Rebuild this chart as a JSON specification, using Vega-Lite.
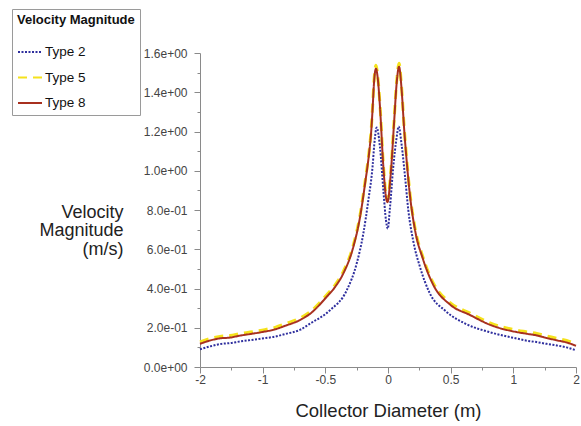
{
  "$schema": "https://vega.github.io/schema/vega-lite/v6.json",
  "autosize": "none",
  "width": 376,
  "height": 314,
  "padding": {"left": 200, "top": 53, "right": 5, "bottom": 59},
  "background": "white",
  "config": {
    "view": {"stroke": null},
    "font": "Liberation Sans",
    "axis": {"labelFont": "Liberation Sans", "titleFont": "Liberation Sans", "grid": false, "domainColor": "#8a8a8a", "tickColor": "#8a8a8a", "labelColor": "#444444", "titleColor": "#222222", "titleFontWeight": "normal"}
  },
  "datasets": {
    "curves": [
      {"x": -2.0, "v": 0.118, "type": "Type 8"}, {"x": -1.84, "v": 0.135, "type": "Type 8"}, {"x": -1.68, "v": 0.146, "type": "Type 8"}, {"x": -1.52, "v": 0.150, "type": "Type 8"}, {"x": -1.36, "v": 0.160, "type": "Type 8"}, {"x": -1.2, "v": 0.168, "type": "Type 8"}, {"x": -1.01, "v": 0.178, "type": "Type 8"}, {"x": -0.9, "v": 0.192, "type": "Type 8"}, {"x": -0.82, "v": 0.21, "type": "Type 8"}, {"x": -0.7, "v": 0.24, "type": "Type 8"}, {"x": -0.62, "v": 0.272, "type": "Type 8"}, {"x": -0.49, "v": 0.357, "type": "Type 8"}, {"x": -0.42, "v": 0.41, "type": "Type 8"}, {"x": -0.357, "v": 0.476, "type": "Type 8"}, {"x": -0.277, "v": 0.611, "type": "Type 8"}, {"x": -0.223, "v": 0.764, "type": "Type 8"}, {"x": -0.183, "v": 0.934, "type": "Type 8"}, {"x": -0.149, "v": 1.10, "type": "Type 8"}, {"x": -0.134, "v": 1.2, "type": "Type 8"}, {"x": -0.122, "v": 1.325, "type": "Type 8"}, {"x": -0.112, "v": 1.445, "type": "Type 8"}, {"x": -0.096, "v": 1.52, "type": "Type 8"}, {"x": -0.08, "v": 1.46, "type": "Type 8"}, {"x": -0.064, "v": 1.325, "type": "Type 8"}, {"x": -0.037, "v": 1.02, "type": "Type 8"}, {"x": -0.016, "v": 0.866, "type": "Type 8"}, {"x": -0.004, "v": 0.84, "type": "Type 8"}, {"x": 0.022, "v": 0.985, "type": "Type 8"}, {"x": 0.048, "v": 1.24, "type": "Type 8"}, {"x": 0.069, "v": 1.445, "type": "Type 8"}, {"x": 0.088, "v": 1.53, "type": "Type 8"}, {"x": 0.109, "v": 1.41, "type": "Type 8"}, {"x": 0.128, "v": 1.22, "type": "Type 8"}, {"x": 0.149, "v": 1.05, "type": "Type 8"}, {"x": 0.176, "v": 0.87, "type": "Type 8"}, {"x": 0.215, "v": 0.70, "type": "Type 8"}, {"x": 0.279, "v": 0.55, "type": "Type 8"}, {"x": 0.36, "v": 0.42, "type": "Type 8"}, {"x": 0.495, "v": 0.318, "type": "Type 8"}, {"x": 0.654, "v": 0.265, "type": "Type 8"}, {"x": 0.814, "v": 0.215, "type": "Type 8"}, {"x": 1.054, "v": 0.178, "type": "Type 8"}, {"x": 1.2, "v": 0.17, "type": "Type 8"}, {"x": 1.373, "v": 0.161, "type": "Type 8"}, {"x": 1.53, "v": 0.148, "type": "Type 8"}, {"x": 1.692, "v": 0.136, "type": "Type 8"}, {"x": 1.85, "v": 0.125, "type": "Type 8"}, {"x": 2.0, "v": 0.108, "type": "Type 8"},

      {"x": -2.0, "v": 0.128, "type": "Type 5"}, {"x": -1.84, "v": 0.145, "type": "Type 5"}, {"x": -1.68, "v": 0.156, "type": "Type 5"}, {"x": -1.52, "v": 0.160, "type": "Type 5"}, {"x": -1.36, "v": 0.170, "type": "Type 5"}, {"x": -1.2, "v": 0.178, "type": "Type 5"}, {"x": -1.01, "v": 0.188, "type": "Type 5"}, {"x": -0.9, "v": 0.202, "type": "Type 5"}, {"x": -0.82, "v": 0.220, "type": "Type 5"}, {"x": -0.7, "v": 0.250, "type": "Type 5"}, {"x": -0.62, "v": 0.282, "type": "Type 5"}, {"x": -0.49, "v": 0.367, "type": "Type 5"}, {"x": -0.42, "v": 0.420, "type": "Type 5"}, {"x": -0.357, "v": 0.486, "type": "Type 5"}, {"x": -0.277, "v": 0.621, "type": "Type 5"}, {"x": -0.223, "v": 0.774, "type": "Type 5"}, {"x": -0.183, "v": 0.944, "type": "Type 5"}, {"x": -0.149, "v": 1.110, "type": "Type 5"}, {"x": -0.134, "v": 1.210, "type": "Type 5"}, {"x": -0.122, "v": 1.335, "type": "Type 5"}, {"x": -0.112, "v": 1.455, "type": "Type 5"}, {"x": -0.096, "v": 1.538, "type": "Type 5"}, {"x": -0.08, "v": 1.470, "type": "Type 5"}, {"x": -0.064, "v": 1.335, "type": "Type 5"}, {"x": -0.037, "v": 1.030, "type": "Type 5"}, {"x": -0.016, "v": 0.876, "type": "Type 5"}, {"x": -0.004, "v": 0.850, "type": "Type 5"}, {"x": 0.022, "v": 0.995, "type": "Type 5"}, {"x": 0.048, "v": 1.250, "type": "Type 5"}, {"x": 0.069, "v": 1.455, "type": "Type 5"}, {"x": 0.088, "v": 1.548, "type": "Type 5"}, {"x": 0.109, "v": 1.420, "type": "Type 5"}, {"x": 0.128, "v": 1.230, "type": "Type 5"}, {"x": 0.149, "v": 1.060, "type": "Type 5"}, {"x": 0.176, "v": 0.880, "type": "Type 5"}, {"x": 0.215, "v": 0.710, "type": "Type 5"}, {"x": 0.279, "v": 0.560, "type": "Type 5"}, {"x": 0.36, "v": 0.430, "type": "Type 5"}, {"x": 0.495, "v": 0.328, "type": "Type 5"}, {"x": 0.654, "v": 0.275, "type": "Type 5"}, {"x": 0.814, "v": 0.225, "type": "Type 5"}, {"x": 1.054, "v": 0.188, "type": "Type 5"}, {"x": 1.2, "v": 0.180, "type": "Type 5"}, {"x": 1.373, "v": 0.171, "type": "Type 5"}, {"x": 1.53, "v": 0.158, "type": "Type 5"}, {"x": 1.692, "v": 0.146, "type": "Type 5"}, {"x": 1.85, "v": 0.135, "type": "Type 5"}, {"x": 2.0, "v": 0.118, "type": "Type 5"},

      {"x": -2.0, "v": 0.09, "type": "Type 2"}, {"x": -1.84, "v": 0.105, "type": "Type 2"}, {"x": -1.68, "v": 0.117, "type": "Type 2"}, {"x": -1.52, "v": 0.122, "type": "Type 2"}, {"x": -1.36, "v": 0.13, "type": "Type 2"}, {"x": -1.2, "v": 0.137, "type": "Type 2"}, {"x": -1.01, "v": 0.145, "type": "Type 2"}, {"x": -0.9, "v": 0.155, "type": "Type 2"}, {"x": -0.82, "v": 0.168, "type": "Type 2"}, {"x": -0.7, "v": 0.19, "type": "Type 2"}, {"x": -0.622, "v": 0.221, "type": "Type 2"}, {"x": -0.463, "v": 0.289, "type": "Type 2"}, {"x": -0.329, "v": 0.391, "type": "Type 2"}, {"x": -0.25, "v": 0.527, "type": "Type 2"}, {"x": -0.197, "v": 0.68, "type": "Type 2"}, {"x": -0.157, "v": 0.849, "type": "Type 2"}, {"x": -0.122, "v": 1.03, "type": "Type 2"}, {"x": -0.11, "v": 1.13, "type": "Type 2"}, {"x": -0.09, "v": 1.22, "type": "Type 2"}, {"x": -0.064, "v": 1.12, "type": "Type 2"}, {"x": -0.037, "v": 0.9, "type": "Type 2"}, {"x": -0.016, "v": 0.747, "type": "Type 2"}, {"x": -0.002, "v": 0.705, "type": "Type 2"}, {"x": 0.016, "v": 0.815, "type": "Type 2"}, {"x": 0.042, "v": 1.02, "type": "Type 2"}, {"x": 0.069, "v": 1.17, "type": "Type 2"}, {"x": 0.085, "v": 1.226, "type": "Type 2"}, {"x": 0.109, "v": 1.13, "type": "Type 2"}, {"x": 0.136, "v": 0.97, "type": "Type 2"}, {"x": 0.162, "v": 0.80, "type": "Type 2"}, {"x": 0.202, "v": 0.64, "type": "Type 2"}, {"x": 0.255, "v": 0.51, "type": "Type 2"}, {"x": 0.33, "v": 0.38, "type": "Type 2"}, {"x": 0.46, "v": 0.285, "type": "Type 2"}, {"x": 0.62, "v": 0.22, "type": "Type 2"}, {"x": 0.814, "v": 0.177, "type": "Type 2"}, {"x": 1.054, "v": 0.145, "type": "Type 2"}, {"x": 1.2, "v": 0.135, "type": "Type 2"}, {"x": 1.373, "v": 0.127, "type": "Type 2"}, {"x": 1.53, "v": 0.118, "type": "Type 2"}, {"x": 1.692, "v": 0.11, "type": "Type 2"}, {"x": 1.85, "v": 0.1, "type": "Type 2"}, {"x": 2.0, "v": 0.085, "type": "Type 2"}
    ]
  },
  "data": {"name": "curves"},
  "resolve": {"axis": {"x": "independent", "y": "independent"}},
  "layer": [
    {
      "transform": [{"filter": "datum.type === 'Type 5'"}],
      "mark": {"type": "line", "interpolate": "monotone", "strokeWidth": 3},
      "encoding": {
        "x": {"field": "x", "type": "quantitative",
          "scale": {"domain": [-2, -1, -0.5, 0, 0.5, 1, 2], "range": [0, 62.67, 125.33, 188, 250.67, 313.33, 376], "nice": false, "zero": false},
          "axis": {"orient": "bottom", "values": [-1.5, -0.75, -0.25, 0.25, 0.75, 1.5], "labels": false, "domain": false, "tickSize": 3, "title": null}},
        "y": {"field": "v", "type": "quantitative",
          "scale": {"domain": [0, 1.6], "nice": false, "zero": false},
          "axis": {"orient": "left", "values": [0.1, 0.3, 0.5, 0.7, 0.9, 1.1, 1.3, 1.5], "labels": false, "domain": false, "tickSize": 3, "title": null}},
        "color": {"field": "type", "type": "nominal",
          "scale": {"domain": ["Type 2", "Type 5", "Type 8"], "range": ["#2f2f9e", "#f5e21c", "#a8301f"]},
          "legend": {"title": "Velocity Magnitude", "orient": "none", "legendX": -188, "legendY": -44, "strokeColor": "#9a9a9a", "fillColor": "white", "padding": 5, "titleFontSize": 13, "titleFontWeight": "bold", "titleColor": "#111111", "titlePadding": 12, "labelFontSize": 13.5, "labelColor": "#111111", "symbolType": "stroke", "symbolSize": 576, "symbolStrokeWidth": 2, "rowPadding": 5.5, "labelOffset": 2}},
        "strokeDash": {"field": "type", "type": "nominal",
          "scale": {"domain": ["Type 2", "Type 5", "Type 8"], "range": [[2, 1.5], [9, 6], [1, 0]]},
          "legend": null}
      }
    },
    {
      "transform": [{"filter": "datum.type !== 'Type 5'"}],
      "mark": {"type": "line", "interpolate": "monotone", "strokeWidth": 2},
      "encoding": {
        "x": {"field": "x", "type": "quantitative",
          "scale": {"domain": [-2, -1, -0.5, 0, 0.5, 1, 2], "range": [0, 62.67, 125.33, 188, 250.67, 313.33, 376], "nice": false, "zero": false},
          "axis": {"orient": "bottom", "values": [-2, -1, -0.5, 0, 0.5, 1, 2], "labelExpr": "datum.value < 0 ? '-' + format(-datum.value, '~g') : format(datum.value, '~g')", "title": "Collector Diameter (m)", "titleFontSize": 18.5, "titleY": 49, "titleBaseline": "alphabetic", "labelFontSize": 12, "tickSize": 6, "labelPadding": 1, "labelFlush": false}},
        "y": {"field": "v", "type": "quantitative",
          "scale": {"domain": [0, 1.6], "nice": false, "zero": false},
          "axis": {"orient": "left", "values": [0, 0.2, 0.4, 0.6, 0.8, 1.0, 1.2, 1.4, 1.6], "labelExpr": "replace(replace(format(datum.value, '.1e'), 'e+', 'e+0'), 'e-', 'e-0')", "labelFontSize": 12, "tickSize": 6, "labelPadding": 7,
            "title": ["Velocity", "Magnitude", "(m/s)"], "titleAngle": 0, "titleAlign": "right", "titleBaseline": "alphabetic", "titleX": -77, "titleY": 164, "titleFontSize": 18, "titleLineHeight": 18.5}},
        "color": {"field": "type", "type": "nominal",
          "scale": {"domain": ["Type 2", "Type 5", "Type 8"], "range": ["#2f2f9e", "#f5e21c", "#a8301f"]}},
        "strokeDash": {"field": "type", "type": "nominal",
          "scale": {"domain": ["Type 2", "Type 5", "Type 8"], "range": [[2, 1.5], [9, 6], [1, 0]]}}
      }
    }
  ]
}
